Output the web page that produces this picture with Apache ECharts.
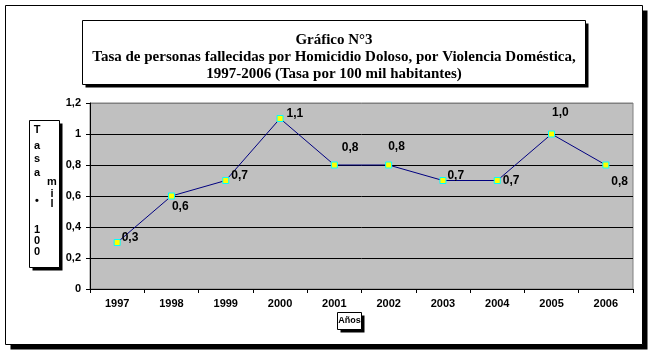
<!DOCTYPE html>
<html>
<head>
<meta charset="utf-8">
<script src="https://cdn.jsdelivr.net/npm/echarts@6/dist/echarts.min.js"></script>
<style>
  html, body { margin: 0; padding: 0; background: #fff; }
  #chart { width: 651px; height: 354px; }
</style>
</head>
<body>
<div id="chart"></div>
<script>
// Data
var years = ['1997', '1998', '1999', '2000', '2001', '2002', '2003', '2004', '2005', '2006'];
var tasa = [0.3, 0.6, 0.7, 1.1, 0.8, 0.8, 0.7, 0.7, 1.0, 0.8];
var yTickLabels = ['0', '0,2', '0,4', '0,6', '0,8', '1', '1,2'];
var titleLines = ['Gráfico N°3',
    'Tasa de personas fallecidas por Homicidio Doloso, por Violencia Doméstica,',
    '1997-2006 (Tasa por 100 mil habitantes)'];

// where each value label sits relative to its point
var labelOffsets = [[8, -7], [4, 8], [9, -7], [10, -7], [11, -20], [3, -21], [8, -7], [9, -2], [4, -24], [9, 14]];

var chart = echarts.init(document.getElementById('chart'));

var pointData = tasa.map(function (v, i) {
    return {
        value: v,
        label: { position: labelOffsets[i] }
    };
});

// boxes with a drop shadow
function shadowBox(x, y, w, h, off, z) {
    return [
        { type: 'rect', shape: { x: x + off, y: y + off, width: w, height: h }, style: { fill: '#000' }, z: z },
        { type: 'rect', shape: { x: x, y: y, width: w, height: h }, style: { fill: '#fff', stroke: '#000', lineWidth: 1 }, z: z + 1 }
    ];
}

var elements = [];
elements = elements.concat(shadowBox(5.5, 5.5, 637, 339, 5, 0));
elements = elements.concat(shadowBox(82.5, 20.5, 503, 64, 3, 2));
elements = elements.concat(shadowBox(29.5, 120.5, 30, 147, 3, 2));
elements = elements.concat(shadowBox(337.5, 312.5, 24, 17, 3, 2));

titleLines.forEach(function (t, i) {
    elements.push({
        type: 'text', x: 334, y: 40 + i * 17, z: 4,
        style: { text: t, fill: '#000', font: 'bold 15px "Liberation Serif"', align: 'center', verticalAlign: 'middle' }
    });
});

// stacked vertical axis title
var col1 = [['T', 130], ['a', 146], ['s', 159], ['a', 173], ['•', 201], ['1', 230], ['0', 241], ['0', 252]];
var col2 = [['m', 182], ['i', 194], ['l', 204]];
col1.forEach(function (c) {
    elements.push({ type: 'text', x: 37, y: c[1], z: 4,
        style: { text: c[0], fill: '#000', font: 'bold 11px "Liberation Sans"', align: 'center', verticalAlign: 'middle' } });
});
col2.forEach(function (c) {
    elements.push({ type: 'text', x: 52, y: c[1], z: 4,
        style: { text: c[0], fill: '#000', font: 'bold 11px "Liberation Sans"', align: 'center', verticalAlign: 'middle' } });
});
elements.push({ type: 'text', x: 349.5, y: 321, z: 4,
    style: { text: 'Años', fill: '#000', font: 'bold 9px "Liberation Sans"', align: 'center', verticalAlign: 'middle' } });

chart.setOption({
    animation: false,
    textStyle: { fontFamily: '"Liberation Sans", Arial, sans-serif' },
    graphic: elements,
    grid: {
        left: 90, right: 18, top: 103, bottom: 65,
        show: true, backgroundColor: '#C0C0C0', borderColor: '#808080', borderWidth: 1, z: 3
    },
    xAxis: {
        type: 'category',
        data: years,
        boundaryGap: true,
        axisLine: { lineStyle: { color: '#000', width: 1 } },
        axisTick: { show: true, length: 4, lineStyle: { color: '#000' } },
        axisLabel: { color: '#000', fontWeight: 'bold', fontSize: 11, margin: 9 },
        z: 4
    },
    yAxis: {
        type: 'value',
        min: 0, max: 1.2, interval: 0.2,
        axisLine: { show: true, lineStyle: { color: '#000', width: 1 } },
        axisTick: { show: true, length: 4, lineStyle: { color: '#000' } },
        axisLabel: {
            color: '#000', fontWeight: 'bold', fontSize: 11, margin: 9,
            formatter: function (v, i) { return yTickLabels[i]; }
        },
        splitLine: { show: true, lineStyle: { color: ['#000', '#000', '#000', '#000', '#000', '#000', '#808080'], width: 1 } },
        z: 4
    },
    series: [{
        type: 'line',
        data: pointData,
        symbol: 'rect',
        symbolSize: 6,
        lineStyle: { color: '#000080', width: 1 },
        itemStyle: { color: '#FFFF00', borderColor: '#00FFFF', borderWidth: 1 },
        label: {
            show: true,
            color: '#000',
            fontWeight: 'bold',
            fontSize: 12,
            formatter: function (p) { return p.value.toFixed(1).replace('.', ','); }
        },
        z: 5
    }]
});
</script>
</body>
</html>
